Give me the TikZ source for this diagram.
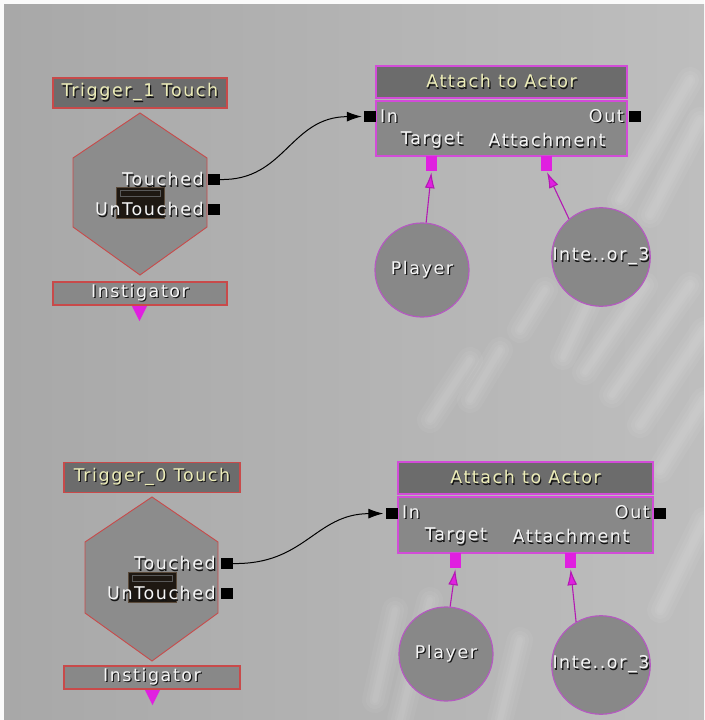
\documentclass[tikz,border=0pt]{standalone}
\usepackage{fontspec}
\newfontfamily\uifont{DejaVu Sans}[LetterSpace=9]
\usetikzlibrary{arrows.meta}

\definecolor{bgdark}{HTML}{A8A8A8}
\definecolor{bglight}{HTML}{BEBEBE}
\definecolor{titlefill}{HTML}{6C6C6C}
\definecolor{bodyfill}{HTML}{888888}
\definecolor{hexfill}{HTML}{8C8C8C}
\definecolor{trigred}{HTML}{C84A4A}
\definecolor{actmag}{HTML}{D24CD8}
\definecolor{varmag}{HTML}{B45AC0}
\definecolor{pinmag}{HTML}{E020E0}
\definecolor{titletext}{HTML}{EDEDB8}
\definecolor{porttext}{HTML}{F6F6F6}
\definecolor{shadowcol}{HTML}{141414}
\definecolor{boxdark}{HTML}{1E1812}
\definecolor{boxedge}{HTML}{5A4A3A}

% text with a one-pixel dark drop shadow
\newcommand\shtext[2]{\leavevmode\rlap{\kern1.2pt\raisebox{-1.2pt}{\color{shadowcol}#2}}{\color{#1}#2}}

\tikzset{
  uitext/.style={font=\uifont\fontsize{17.5}{19}\selectfont, inner sep=0pt},
  trigtitle/.style={draw=trigred, fill=titlefill, line width=1.2pt, minimum width=174pt, minimum height=30pt, uitext},
  trigbar/.style={draw=trigred, fill=bodyfill, line width=1.2pt, minimum width=174pt, minimum height=23pt, uitext},
  acttitle/.style={draw=actmag, fill=titlefill, line width=1.4pt, minimum width=251pt, minimum height=32pt, uitext},
  actbody/.style={draw=actmag, fill=bodyfill, line width=1.4pt, minimum width=251pt, minimum height=55pt},
  hexbody/.style={draw=trigred, fill=hexfill, line width=0.9pt},
  eventport/.style={fill=black, minimum width=12pt, minimum height=11pt, inner sep=0pt},
  varpin/.style={fill=pinmag, minimum width=11pt, minimum height=15pt, inner sep=0pt},
  varnode/.style={circle, draw=varmag, fill=bodyfill, line width=1.2pt, minimum size=94pt, inner sep=0pt, uitext},
  darkbox/.style={draw=boxedge, fill=boxdark, line width=0.8pt},
  wire/.style={black, line width=1pt, -{Latex[length=15pt,width=10pt]}, shorten >=2pt},
  varlink/.style={pinmag!80!black, line width=1.1pt, -{Latex[length=16pt,width=10pt, fill=pinmag]}, shorten >=1pt},
  streak/.style={white, line cap=round, opacity=0.05},
}

\begin{document}
\begin{tikzpicture}[x=1pt,y=-1pt]
\useasboundingbox (0,0) rectangle (704,720);

% backdrop
\fill[white!96!gray] (0,0) rectangle (704,720);
\shade[left color=bgdark, right color=bglight] (4,4) rectangle (704,720);
\begin{scope}
  \clip (4,4) rectangle (704,720);
  \foreach \w in {26,18,11,6}{
    \draw[streak, line width=\w pt] (563,357) -- (590,300);
    \draw[streak, line width=\w pt] (585,372) -- (645,285);
    \draw[streak, line width=\w pt] (612,395) -- (690,285);
    \draw[streak, line width=\w pt] (640,425) -- (704,330);
    \draw[streak, line width=\w pt] (650,215) -- (700,120);
    \draw[streak, line width=\w pt] (620,200) -- (690,80);
    \draw[streak, line width=\w pt] (520,330) -- (545,290);
    \draw[streak, line width=\w pt] (660,470) -- (704,400);
    \draw[streak, line width=\w pt] (430,420) -- (470,360);
    \draw[streak, line width=\w pt] (470,400) -- (500,350);
    \draw[streak, line width=\w pt] (400,720) -- (430,600);
    \draw[streak, line width=\w pt] (375,700) -- (395,610);
    \draw[streak, line width=\w pt] (500,720) -- (520,640);
    \draw[streak, line width=\w pt] (660,610) -- (704,520);
  }
\end{scope}

% ---------- upper sequence ----------
\node[trigtitle] (t1title) at (140,93) {\shtext{titletext}{Trigger\_1 Touch}};
\draw[hexbody] (140,113) -- (207,158) -- (207,227) -- (140,275) -- (73,227) -- (73,158) -- cycle;
\draw[darkbox] (116,187) rectangle (164,218);
\draw[gray!70!black, line width=0.7pt] (120,190) rectangle (160,196);
\node[uitext, anchor=east] (t1touchtxt) at (204,180) {\shtext{porttext}{Touched}};
\node[uitext, anchor=east] (t1untxt) at (204,210) {\shtext{porttext}{UnTouched}};
\node[eventport] (t1touch) at (214,179.5) {};
\node[eventport] (t1untouch) at (214,209.5) {};
\node[trigbar] (t1inst) at (140,293.5) {\shtext{porttext}{Instigator}};
\fill[pinmag] (132,306) -- (147,306) -- (139.5,321) -- cycle;

\node[acttitle] (a1title) at (501.5,82) {\shtext{titletext}{Attach to Actor}};
\node[actbody] (a1body) at (501.5,128.5) {};
\node[uitext, anchor=west] (a1intxt) at (380,117) {\shtext{porttext}{In}};
\node[uitext, anchor=east] (a1outtxt) at (624,117) {\shtext{porttext}{Out}};
\node[uitext] (a1tgttxt) at (432,141) {\shtext{porttext}{Target}};
\node[uitext] (a1atttxt) at (547,141) {\shtext{porttext}{Attachment}};
\node[eventport] (a1in) at (370,116.5) {};
\node[eventport] (a1out) at (634.5,116.5) {};
\node[varpin] (a1pint) at (431.5,163.5) {};
\node[varpin] (a1pina) at (546.5,163.5) {};

\node[varnode] (p1) at (422,270) {\shtext{porttext}{Player}};
\node[varnode] (i1) at (601,257) {\shtext{porttext}{Inte..or\_3}};

\draw[wire] (t1touch.east) .. controls (285,181) and (290,117) .. (a1in.west);
\draw[varlink] (p1.85) -- (a1pint.south);
\draw[varlink] (i1.130) -- (a1pina.south);

% ---------- lower sequence ----------
\node[trigtitle, minimum width=176pt] (t0title) at (152,477.5) {\shtext{titletext}{Trigger\_0 Touch}};
\draw[hexbody] (152,497) -- (218,542) -- (218,613) -- (152,661) -- (85,613) -- (85,542) -- cycle;
\draw[darkbox] (128,572) rectangle (176,602);
\draw[gray!70!black, line width=0.7pt] (132,575) rectangle (172,581);
\node[uitext, anchor=east] (t0touchtxt) at (216,564) {\shtext{porttext}{Touched}};
\node[uitext, anchor=east] (t0untxt) at (216,594) {\shtext{porttext}{UnTouched}};
\node[eventport] (t0touch) at (226.5,563.5) {};
\node[eventport] (t0untouch) at (226.5,593.5) {};
\node[trigbar, minimum width=176pt] (t0inst) at (152,677.5) {\shtext{porttext}{Instigator}};
\fill[pinmag] (145,690) -- (160,690) -- (152.5,705) -- cycle;

\node[acttitle, minimum width=255pt] (a0title) at (525.5,478) {\shtext{titletext}{Attach to Actor}};
\node[actbody, minimum width=255pt, minimum height=56pt] (a0body) at (525.5,525) {};
\node[uitext, anchor=west] (a0intxt) at (402,513) {\shtext{porttext}{In}};
\node[uitext, anchor=east] (a0outtxt) at (650,513) {\shtext{porttext}{Out}};
\node[uitext] (a0tgttxt) at (456,537) {\shtext{porttext}{Target}};
\node[uitext] (a0atttxt) at (571,537) {\shtext{porttext}{Attachment}};
\node[eventport] (a0in) at (391.5,513.5) {};
\node[eventport] (a0out) at (660,513.5) {};
\node[varpin] (a0pint) at (455.5,560.5) {};
\node[varpin] (a0pina) at (570.5,560.5) {};

\node[varnode] (p0) at (446,654) {\shtext{porttext}{Player}};
\node[varnode] (i0) at (601,665) {\shtext{porttext}{Inte..or\_3}};

\draw[wire] (t0touch.east) .. controls (305,565) and (315,514) .. (a0in.west);
\draw[varlink] (p0.85) -- (a0pint.south);
\draw[varlink] (i0.120) -- (a0pina.south);
\end{tikzpicture}
\end{document}
